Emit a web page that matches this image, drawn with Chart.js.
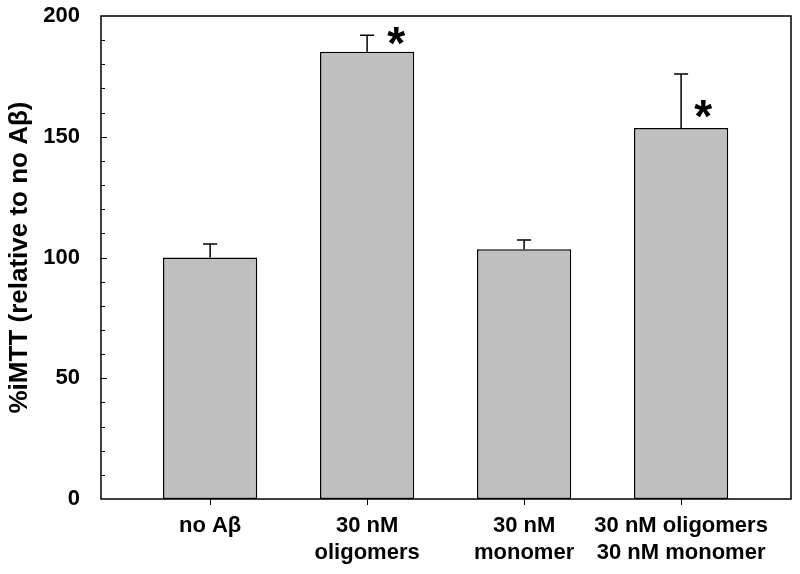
<!DOCTYPE html>
<html>
<head>
<meta charset="utf-8">
<script src="https://cdn.jsdelivr.net/npm/chart.js@4.4.0/dist/chart.umd.min.js"></script>
<style>
  html, body { margin: 0; padding: 0; background: #fff; }
  #wrap { width: 800px; height: 574px; }
</style>
</head>
<body>
<div id="wrap"><canvas id="canvas1"></canvas></div>
<script>
// groups on the x axis
var groups = [["no A\u03b2"], ["30 nM", "oligomers"], ["30 nM", "monomer"], ["30 nM oligomers", "30 nM monomer"]];
var positions = [1, 2, 3, 4];
// mean %iMTT and upper error
var means = [100, 185.2, 103.4, 153.6];
var errors = [5.6, 6.8, 3.8, 22.4];
// significance marks (null = none)
var starX = [null, 2.185, null, 4.14];
var starY = [null, 191.3, null, 161];
var yTicks = [0, 50, 100, 150, 200];

var font = "Arial, 'Liberation Sans', sans-serif";

var extras = {
    id: 'extras',
    afterDatasetsDraw: function(chart){
        var ctx = chart.ctx;
        var area = chart.chartArea;
        var xs = chart.scales.x, ys = chart.scales.y;
        ctx.save();
        // error bars
        ctx.strokeStyle = '#000';
        ctx.lineWidth = 1.5;
        for (var i = 0; i < means.length; i++) {
            var x = xs.getPixelForValue(positions[i]);
            var y0 = ys.getPixelForValue(means[i]);
            var y1 = ys.getPixelForValue(means[i] + errors[i]);
            ctx.beginPath();
            ctx.moveTo(x, y0);
            ctx.lineTo(x, y1);
            ctx.moveTo(x - 7, y1);
            ctx.lineTo(x + 7, y1);
            ctx.stroke();
        }
        // asterisks
        ctx.fillStyle = '#000';
        ctx.font = 'bold 46px ' + font;
        ctx.textAlign = 'center';
        ctx.textBaseline = 'alphabetic';
        for (var j = 0; j < starY.length; j++) {
            if (starY[j] === null) continue;
            var sx = xs.getPixelForValue(starX[j]);
            var sy = ys.getPixelForValue(starY[j]);
            ctx.fillText('*', sx, sy + 22);
        }
        // inward ticks on y axis every 10
        ctx.lineWidth = 1;
        for (var v = 10; v < 200; v += 10) {
            var ty = Math.round(ys.getPixelForValue(v)) + 0.5;
            var len = (v % 50 === 0) ? 6 : 4;
            ctx.beginPath();
            ctx.moveTo(area.left, ty);
            ctx.lineTo(area.left + len, ty);
            ctx.stroke();
        }
        // frame
        ctx.lineWidth = 1.5;
        ctx.strokeRect(area.left, area.top, area.right - area.left, area.bottom - area.top);
        ctx.restore();
    }
};

var ctx = document.getElementById('canvas1').getContext('2d');
var myChart = new Chart(ctx, {
    type: 'bar',
    data: {
        datasets: [{
            data: positions.map(function(p, i){ return {x: p, y: means[i]}; }),
            backgroundColor: '#c0c0c0',
            borderColor: '#000',
            borderWidth: 1.5,
            borderSkipped: false,
            barPercentage: 0.6,
            categoryPercentage: 1
        }]
    },
    options: {
        responsive: true,
        maintainAspectRatio: false,
        animation: false,
        layout: { padding: { top: 16, right: 9, left: 0, bottom: 0 } },
        plugins: {
            legend: { display: false },
            tooltip: { enabled: false }
        },
        scales: {
            x: {
                type: 'linear',
                offset: false,
                min: 0.305,
                max: 4.7,
                afterBuildTicks: function(scale){
                    scale.ticks = positions.map(function(p){ return {value: p}; });
                },
                afterFit: function(scale){
                    scale.height = 75;
                    scale.paddingLeft = 0;
                    scale.paddingRight = 0;
                },
                grid: {
                    offset: false,
                    drawOnChartArea: false,
                    drawTicks: true,
                    tickLength: 6,
                    color: '#000',
                    lineWidth: 1
                },
                border: { display: false },
                ticks: {
                    color: '#000',
                    padding: 8,
                    maxRotation: 0,
                    autoSkip: false,
                    font: { family: font, size: 22, weight: 'bold', lineHeight: 1.2 },
                    callback: function(value){
                        var k = positions.indexOf(value);
                        return k >= 0 ? groups[k] : '';
                    }
                }
            },
            y: {
                min: 0,
                max: 200,
                afterBuildTicks: function(scale){
                    scale.ticks = yTicks.map(function(t){ return {value: t}; });
                },
                afterFit: function(scale){
                    scale.width = 101;
                    scale.paddingTop = 0;
                    scale.paddingBottom = 0;
                },
                grid: { display: false },
                border: { display: false },
                ticks: {
                    color: '#000',
                    padding: 13,
                    font: { family: font, size: 22, weight: 'bold' }
                },
                title: {
                    display: true,
                    text: '%iMTT (relative to no A\u03b2)',
                    color: '#000',
                    padding: { top: 4, bottom: 0 },
                    font: { family: font, size: 26, weight: 'bold' }
                }
            }
        }
    },
    plugins: [extras]
});
</script>
</body>
</html>
